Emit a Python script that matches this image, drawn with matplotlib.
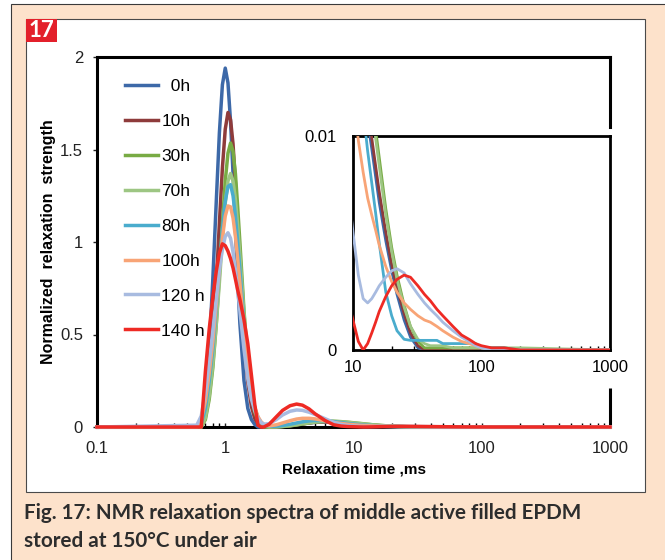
import matplotlib.pyplot as plt
import matplotlib.patches as patches
from matplotlib.ticker import NullFormatter

plt.rcParams['font.family'] = ['Liberation Sans', 'DejaVu Sans']

# relaxation time grid (ms)
t_ms = [0.1, 0.6, 0.65, 0.7, 0.75, 0.8, 0.85, 0.9, 0.95, 1.0,
        1.05, 1.1, 1.15, 1.2, 1.25, 1.3, 1.4, 1.5, 1.6, 1.7,
        1.8, 1.9, 2.0, 2.2, 2.5, 2.8, 3.2, 3.6, 4.0, 4.5,
        5.0, 6.0, 7.0, 8.0, 9.0, 10, 11, 12, 13, 14,
        15, 16, 18, 20, 22, 25, 28, 32, 36, 40,
        45, 50, 60, 70, 80, 90, 100, 120, 150, 200, 1000]

labels = ['  0h', '10h', '30h', '70h', '80h', '100h', '120 h', '140 h']
colors = ['#3d69a8', '#8e3b3b', '#78ab44', '#9dc683', '#4aaccd', '#f8a476', '#a8bbe0', '#ee2a24']

s_0h = [0, 0, 0.0, 0.12, 0.42, 0.80, 1.21, 1.59, 1.85, 1.94,
        1.86, 1.65, 1.37, 1.07, 0.80, 0.56, 0.25, 0.10, 0.04, 0.013,
        0, 0, 0, 0, 0, 0.003, 0.007, 0.012, 0.017, 0.022,
        0.025, 0.027, 0.026, 0.023, 0.020, 0.017, 0.0145, 0.0125, 0.0107, 0.0094,
        0.0081, 0.0069, 0.0051, 0.0037, 0.0026, 0.0014, 0.0006, 0.0001, 0, 0,
        0, 0, 0, 0, 0, 0, 0, 0, 0, 0, 0]
s_10h = [0, 0, 0.0, 0.06, 0.22, 0.47, 0.77, 1.10, 1.40, 1.61,
         1.70, 1.66, 1.53, 1.32, 1.09, 0.86, 0.48, 0.24, 0.11, 0.045,
         0.017, 0, 0, 0, 0, 0.003, 0.007, 0.012, 0.017, 0.022,
         0.026, 0.028, 0.027, 0.024, 0.021, 0.018, 0.0155, 0.0133, 0.0114, 0.0099,
         0.0086, 0.0074, 0.0055, 0.0040, 0.0029, 0.0017, 0.0008, 0.0002, 0, 0,
         0, 0, 0, 0, 0, 0, 0, 0, 0, 0, 0]
s_30h = [0, 0, 0.0, 0.04, 0.15, 0.32, 0.55, 0.82, 1.10, 1.33,
         1.48, 1.535, 1.49, 1.37, 1.19, 1.00, 0.63, 0.35, 0.18, 0.08,
         0.036, 0.015, 0, 0, 0, 0.002, 0.006, 0.011, 0.016, 0.022,
         0.027, 0.031, 0.031, 0.029, 0.026, 0.023, 0.020, 0.0175, 0.0150, 0.0125,
         0.0103, 0.0090, 0.0066, 0.0048, 0.0035, 0.0021, 0.0011, 0.0004, 0.0001, 0.0001,
         0.0001, 0.0001, 0.0001, 0.0001, 0.0001, 0.0001, 0.0001, 0.0001, 0.0001, 0, 0]
s_70h = [0, 0, 0.0, 0.05, 0.17, 0.34, 0.55, 0.78, 1.02, 1.21,
         1.33, 1.37, 1.33, 1.23, 1.09, 0.93, 0.61, 0.36, 0.20, 0.10,
         0.05, 0.02, 0.005, 0, 0.001, 0.004, 0.008, 0.013, 0.018, 0.023,
         0.027, 0.030, 0.030, 0.028, 0.025, 0.022, 0.019, 0.0165, 0.0140, 0.0117,
         0.0099, 0.0086, 0.0063, 0.0046, 0.0033, 0.0020, 0.0011, 0.0005, 0.0003, 0.0002,
         0.0002, 0.0002, 0.0001, 0.0001, 0.0001, 0.0001, 0.0001, 0.0001, 0.0001, 0.0001, 0]
s_80h = [0, 0, 0.02, 0.10, 0.25, 0.42, 0.64, 0.86, 1.07, 1.22,
         1.30, 1.31, 1.25, 1.14, 1.00, 0.85, 0.56, 0.34, 0.19, 0.10,
         0.05, 0.024, 0.011, 0.004, 0.004, 0.008, 0.015, 0.022, 0.028, 0.033,
         0.035, 0.034, 0.029, 0.024, 0.019, 0.016, 0.0135, 0.0112, 0.0093, 0.0078,
         0.0064, 0.0050, 0.0027, 0.0016, 0.0009, 0.0005, 0.00045, 0.00045, 0.00045, 0.00045,
         0.00045, 0.0003, 0.0003, 0.0003, 0.0003, 0.0003, 0.0001, 0.0001, 0.0001, 0, 0]
s_100h = [0, 0, 0.04, 0.14, 0.29, 0.46, 0.66, 0.85, 1.02, 1.14,
          1.195, 1.19, 1.13, 1.03, 0.91, 0.78, 0.53, 0.33, 0.19, 0.106,
          0.056, 0.029, 0.014, 0.006, 0.012, 0.022, 0.034, 0.043, 0.047, 0.047,
          0.044, 0.034, 0.025, 0.019, 0.015, 0.012, 0.0098, 0.0083, 0.0071, 0.0063,
          0.0056, 0.0049, 0.0039, 0.0032, 0.0027, 0.0022, 0.0019, 0.0016, 0.0014, 0.0013,
          0.0011, 0.0009, 0.0006, 0.0004, 0.0003, 0.0002, 0.0001, 0, 0, 0, 0]
s_120h = [0, 0.01, 0.06, 0.19, 0.35, 0.52, 0.69, 0.85, 0.96, 1.03,
          1.05, 1.02, 0.945, 0.85, 0.74, 0.63, 0.42, 0.26, 0.15, 0.087,
          0.047, 0.025, 0.015, 0.018, 0.040, 0.065, 0.085, 0.092, 0.090, 0.080,
          0.068, 0.045, 0.025, 0.014, 0.008, 0.0055, 0.0035, 0.0024, 0.0022, 0.0024,
          0.0027, 0.0030, 0.0034, 0.0037, 0.0038, 0.0036, 0.0031, 0.0026, 0.0022, 0.0019,
          0.0016, 0.0013, 0.0009, 0.0006, 0.0004, 0.0002, 0.0001, 0, 0, 0, 0]
s_140h = [0, 0, 0.0, 0.30, 0.53, 0.70, 0.84, 0.94, 0.99, 0.98,
          0.95, 0.91, 0.86, 0.80, 0.74, 0.69, 0.58, 0.45, 0.28, 0.12,
          0.01, 0, 0, 0.015, 0.055, 0.09, 0.115, 0.124, 0.118, 0.098,
          0.072, 0.035, 0.012, 0.005, 0.0025, 0.0014, 0.0004, 0.0, 0.0003, 0.0008,
          0.0013, 0.0018, 0.0025, 0.0030, 0.0033, 0.0035, 0.0034, 0.0030, 0.0026, 0.0023,
          0.0019, 0.0016, 0.0011, 0.0007, 0.0005, 0.0003, 0.0002, 0.0001, 0.0001, 0, 0]

series = [s_0h, s_10h, s_30h, s_70h, s_80h, s_100h, s_120h, s_140h]

W, H = 665, 560
fig = plt.figure(figsize=(W / 100, H / 100), dpi=100)
fig.patch.set_facecolor('white')

# peach page with thin frame, white panel, red badge
fig.patches.append(patches.Rectangle((11 / W, -0.01), 1.0, 556 / H + 0.01, transform=fig.transFigure,
                                     facecolor='#fde2cb', edgecolor='#3a3a3a', lw=0.8, zorder=-3))
fig.patches.append(patches.Rectangle((26 / W, 68 / H), 619 / W, 473 / H, transform=fig.transFigure,
                                     facecolor='white', edgecolor='#4a4a4a', lw=0.8, zorder=-2))
fig.patches.append(patches.Rectangle((26 / W, 518 / H), 31 / W, 23 / H, transform=fig.transFigure,
                                     facecolor='#e3202b', edgecolor='none', zorder=-1))
fig.text(41.5 / W, 1 - 30.5 / H, '17', color='white', fontsize=16, fontweight='bold',
         ha='center', va='center', family=['Lato', 'DejaVu Sans'])

fig.text(24 / W, 1 - 513 / H, 'Fig. 17: NMR relaxation spectra of middle active filled EPDM',
         fontsize=14.9, fontweight='bold', color='#2d2d2d', va='center', family=['Lato', 'DejaVu Sans'])
fig.text(24 / W, 1 - 541 / H, 'stored at 150°C under air',
         fontsize=14.9, fontweight='bold', color='#2d2d2d', va='center', family=['Lato', 'DejaVu Sans'])

# main axes
ax = fig.add_axes([97 / W, 133 / H, 513 / W, 370 / H])
ax.set_zorder(2)
ax.set_facecolor('white')
for y, c, lab in zip(series, colors, labels):
    ax.plot(t_ms, y, color=c, lw=2.5, label=lab, clip_on=False, zorder=3)
ax.set_xscale('log')
ax.set_xlim(0.1, 1000)
ax.set_ylim(0, 2)
ax.set_xticks([0.1, 1, 10, 100, 1000], ['0.1', '1', '10', '100', '1000'])
ax.xaxis.set_minor_formatter(NullFormatter())
ax.set_yticks([0, 0.5, 1, 1.5, 2], ['0', '0.5', '1', '1.5', '2'])
ax.tick_params(axis='x', which='both', direction='in', length=3, width=1, labelsize=12, pad=10)
ax.tick_params(axis='y', direction='out', length=3, width=1, labelsize=12, pad=7)
ax.tick_params(axis='both', colors='#222222')
for side in ['left', 'top', 'bottom']:
    ax.spines[side].set_linewidth(2.2)
ax.spines['right'].set_visible(False)
ax.plot([1, 1], [0.81, 1.0], transform=ax.transAxes, color='black', lw=2.2, clip_on=False,
        solid_capstyle='projecting')
ax.plot([1, 1], [0.0, 0.105], transform=ax.transAxes, color='black', lw=2.2, clip_on=False,
        solid_capstyle='butt')
ax.set_xlabel('Relaxation time ,ms', fontsize=11, fontweight='bold', labelpad=5)
ax.set_ylabel('Normalized  relaxation  strength', fontsize=11.5, fontweight='bold', labelpad=3)

ax.legend(loc='upper left', bbox_to_anchor=(0.041, 0.96), frameon=False, fontsize=12.5,
          handlelength=1.9, handletextpad=0.2, labelspacing=1.14, borderaxespad=0)

# inset
ins = fig.add_axes([353 / W, 210 / H, 257 / W, 214 / H])
ins.set_zorder(3)
ins.set_facecolor('white')
for y, c in zip(series, colors):
    ins.plot(t_ms, y, color=c, lw=2.0, zorder=3)
ins.set_xscale('log')
ins.set_xlim(10, 1000)
ins.set_ylim(0, 0.01)
ins.set_xticks([10, 100, 1000], ['10', '100', '1000'])
ins.xaxis.set_minor_formatter(NullFormatter())
ins.set_yticks([0, 0.01], ['0', '0.01'])
ins.tick_params(axis='x', which='both', direction='in', length=3, width=1, labelsize=12, pad=7)
ins.tick_params(axis='y', length=0, labelsize=12, pad=12)
for s in ins.spines.values():
    s.set_linewidth(2.0)

fig.savefig('out.png', dpi=100, facecolor=fig.get_facecolor())
